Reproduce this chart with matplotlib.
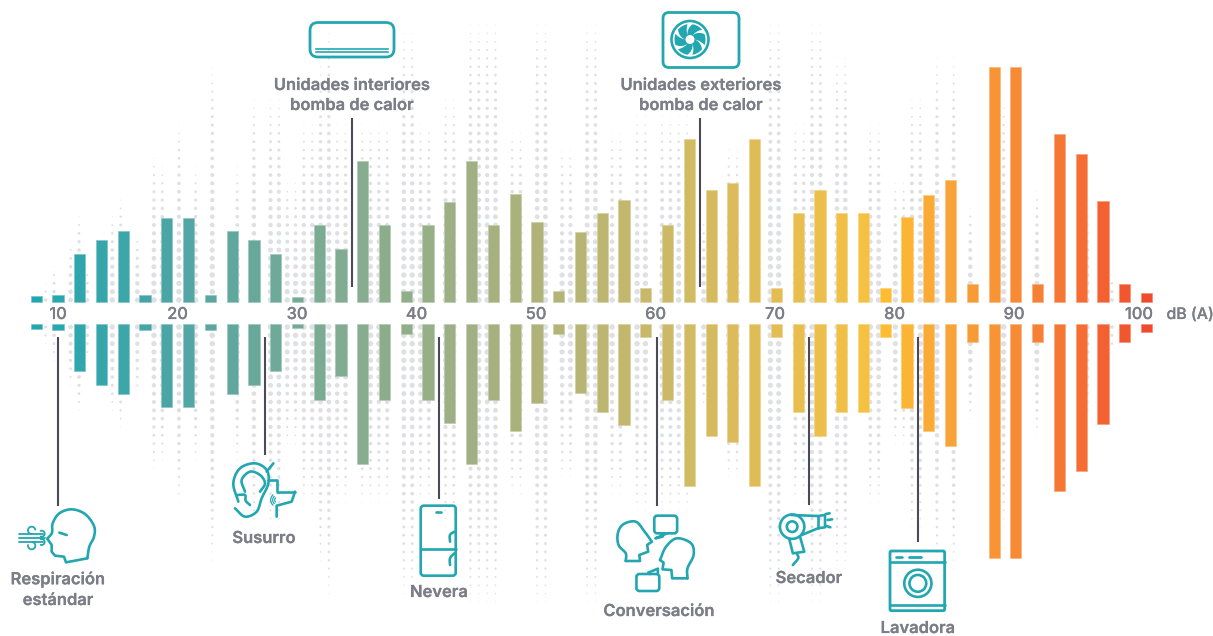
import numpy as np
import matplotlib
matplotlib.use("Agg")
import matplotlib.pyplot as plt
import matplotlib.patheffects as pe
from matplotlib.colors import LinearSegmentedColormap, to_rgb
from matplotlib.patches import FancyBboxPatch, Circle, Polygon

W, H = 1213, 636
FONT = "Inter"
TEAL = "#22a7b0"
GREY = "#7b7d87"
LEADER = "#4a4b57"
DOT = "#dfe0e3"

# bar half-heights, px units measured away from the central label band
upper = [6, 7, 48, 62, 71, 7, 84, 84, 7, 71, 62, 48, 5, 77, 53, 141, 77, 11, 77, 100,
         141, 77, 108, 80, 11, 70, 89, 102, 14, 77, 163, 112, 119, 163, 14, 89, 112, 89,
         89, 14, 85, 107, 122, 18, 235, 235, 18, 168, 148, 101, 18, 9]
lower = [5, 6, 47, 61, 70, 6, 83, 83, 6, 70, 61, 47, 4, 76, 52, 140, 76, 10, 76, 99,
         140, 76, 107, 79, 10, 69, 88, 101, 13, 76, 162, 112, 118, 162, 13, 88, 112, 88,
         88, 13, 84, 107, 122, 18, 234, 234, 18, 167, 147, 100, 18, 8]
tick_values = [10, 20, 30, 40, 50, 60, 70, 80, 90, 100]
tick_pos_db = [10, 20, 30, 40, 50, 60, 70, 80, 90, 100.45]
axis_unit = "dB (A)"

color_pos = [0, 6, 13, 20, 26, 30, 33, 38, 39, 42, 45, 48, 51]
color_hex = ["#22a7b0", "#4ba5a5", "#7cab94", "#a1b082", "#bdb671", "#d0ba62", "#e0bc56",
             "#f4c142", "#fdbd33", "#f9a237", "#f78b35", "#f56d33", "#ef4a2c"]

# top edge (px) reached by each background dot column, 0 = no column
dot_top = [0, 0, 0, 303, 292, 283, 267, 0, 242, 215, 267, 0, 233, 217, 200, 0, 233, 0, 157, 165,
           0, 123, 0, 167, 0, 67, 0, 0, 167, 0, 100, 0, 97, 97, 183, 183, 123, 123, 63, 30,
           123, 123, 0, 123, 123, 123, 123, 0, 30, 30, 123, 123, 0, 100, 100, 0, 23, 23, 23, 23,
           0, 132, 132, 0, 23, 23, 0, 148, 148, 0, 23, 23, 0, 132, 132, 0, 115, 115, 0, 115,
           115, 115, 115, 0, 220, 0, 0, 148, 148, 0, 0, 0, 23, 23, 0, 123, 123, 23, 23, 0,
           57, 57, 0, 0, 123, 123, 0, 182, 182, 98, 98, 0, 57, 0, 57, 0, 207, 0, 0, 0,
           100, 0, 0, 0, 190, 0, 0, 0, 0, 0, 180, 0, 0, 273, 0, 285]

fig = plt.figure(figsize=(W / 100, H / 100), dpi=100, facecolor="white")
CY = 313.5
BAR_CY = 313.0
PX_PER_DB = 11.95
BOLD = [pe.withStroke(linewidth=0.15, foreground=GREY)]

# dots layer
dots = fig.add_axes([0, 0, 1, 1], zorder=0)
dots.set_xlim(0, W); dots.set_ylim(H, 0); dots.axis("off")
xs, ys, ss = [], [], []
for k, top in enumerate(dot_top):
    if not top:
        continue
    reach = CY - top
    for n in range(40):
        d = 13.5 + 8.33 * n
        if d > reach + 1:
            break
        f = max(0.0, 1 - d / reach)
        r = max(0.45, 2.9 * f ** 0.45 * min(1.0, 0.6 + reach / 250))
        for y in (CY - d, CY + d):
            xs.append(4 + 8.33 * k); ys.append(y)
            ss.append((2 * r * 0.72) ** 2)
dots.scatter(xs, ys, s=ss, c=DOT, linewidths=0)

# bars layer: x in dB, y in px away from centre
ax = fig.add_axes([0, 0, 1, 1], zorder=1)
ax.patch.set_alpha(0)
ax.set_xlim(10 - 58 / PX_PER_DB, 10 + (W - 58) / PX_PER_DB)
ax.set_ylim(-(H - BAR_CY), BAR_CY)
ax.axis("off")
cmap = LinearSegmentedColormap.from_list(
    "db", [(p / color_pos[-1], c) for p, c in zip(color_pos, color_hex)])
n_bars = len(upper)
bar_db = 10 + (np.arange(n_bars) - 1) * 21.77 / PX_PER_DB
gap = 11.0
for i, (x, u, l) in enumerate(zip(bar_db, upper, lower)):
    c = np.array(to_rgb(cmap(i / (n_bars - 1))))
    e = tuple(c * 0.65 + 0.35)
    w = 11.2 / PX_PER_DB
    ax.bar(x, u, w, bottom=gap, color=tuple(c), edgecolor=e, linewidth=0.5)
    ax.bar(x, -l, w, bottom=-gap, color=tuple(c), edgecolor=e, linewidth=0.5)
for v, p in zip(tick_values, tick_pos_db):
    ax.text(p, 0, str(v), ha="center", va="center_baseline", color=GREY, fontsize=11.8,
            family=FONT, weight=500, path_effects=BOLD)
ax.text(10 + (1190 - 58) / PX_PER_DB, 0, axis_unit, ha="center", va="center_baseline",
        color=GREY, fontsize=11.4, family=FONT, weight=500, path_effects=BOLD)

# overlay in pixel coordinates: leaders, labels, icons
ov = fig.add_axes([0, 0, 1, 1], zorder=2)
ov.patch.set_alpha(0)
ov.set_xlim(0, W); ov.set_ylim(H, 0); ov.axis("off")

leaders = [(58, 337, 506), (265, 337, 455), (352, 118, 287), (439, 337, 499),
           (657, 337, 506), (700, 118, 287), (809, 337, 505), (918, 337, 542)]
for x, y0, y1 in leaders:
    ov.plot([x, x], [y0, y1], color=LEADER, lw=1.5, solid_capstyle="butt")

labels = [("Unidades interiores", 352, 84), ("bomba de calor", 352, 104),
          ("Unidades exteriores", 701, 84), ("bomba de calor", 701, 104),
          ("Respiración", 58, 578), ("estándar", 58, 599), ("Susurro", 264, 537),
          ("Nevera", 439, 591), ("Conversación", 659, 610), ("Secador", 809, 577),
          ("Lavadora", 918, 627)]
for t, x, y in labels:
    ov.text(x, y, t, ha="center", va="center_baseline", color=GREY, fontsize=11.9,
            family=FONT, weight=600, path_effects=BOLD)


def spline(pts, samples=14):
    p = np.array(pts, float)
    p = np.vstack([2 * p[0] - p[1], p, 2 * p[-1] - p[-2]])
    out = []
    for i in range(1, len(p) - 2):
        for t in np.linspace(0, 1, samples, endpoint=False):
            out.append(0.5 * ((2 * p[i]) + (p[i + 1] - p[i - 1]) * t +
                              (2 * p[i - 1] - 5 * p[i] + 4 * p[i + 1] - p[i + 2]) * t ** 2 +
                              (3 * p[i] - p[i - 1] - 3 * p[i + 1] + p[i + 2]) * t ** 3))
    out.append(p[-2])
    return np.array(out)


LW = 1.9


def stroke(pts, ox, oy, sx=3.0, smooth=False, lw=LW, color=TEAL):
    p = spline(pts) if smooth else np.array(pts, float)
    ov.plot(ox + p[:, 0] / sx, oy + p[:, 1] / 3, color=color, lw=lw,
            solid_capstyle="round", solid_joinstyle="round")


def arc(cx, cy, r, a0, a1, ox, oy, sx=3.0, lw=LW):
    t = np.radians(np.linspace(a0, a1, 40))
    ov.plot(ox + (cx + r * np.cos(t)) / sx, oy + (cy + r * np.sin(t)) / 3, color=TEAL, lw=lw,
            solid_capstyle="round")


def rbox(x0, y0, x1, y1, r, lw=LW):
    ov.add_patch(FancyBboxPatch((x0 + r, y0 + r), x1 - x0 - 2 * r, y1 - y0 - 2 * r,
                                boxstyle=f"round,pad={r},rounding_size={r}",
                                fc="none", ec=TEAL, lw=lw))


# air-conditioner indoor unit
rbox(310, 22.5, 394, 57, 8, lw=2.0)
ov.plot([316, 388], [48.5, 48.5], color=TEAL, lw=1.2)
ov.plot([316, 388], [52, 52], color=TEAL, lw=1.2)

# outdoor unit with fan
rbox(663, 12.5, 739, 67.5, 6, lw=2.0)
ov.add_patch(Circle((690, 39.5), 18.5, fc="white", ec=TEAL, lw=1.9))
ov.add_patch(Circle((690, 39.5), 15.5, fc=TEAL, ec="none"))
for a in range(0, 360, 60):
    t0 = np.radians(a)
    rr = np.linspace(4.5, 16.5, 14)
    front = t0 + np.linspace(0, 0.75, 14)
    back = t0 + np.linspace(0, 0.4, 14)
    poly = np.vstack([np.c_[690 + rr * np.cos(front), 39.5 + rr * np.sin(front)],
                      np.c_[690 + rr[::-1] * np.cos(back[::-1]), 39.5 + rr[::-1] * np.sin(back[::-1])]])
    ov.add_patch(Polygon(poly, fc="white", ec="none"))
ov.add_patch(Circle((690, 39.5), 4.5, fc="white", ec="none"))

# breathing head
o = (0, 440)
stroke([(142, 296), (156, 278), (158, 250), (178, 220), (215, 208), (255, 222), (282, 258),
        (282, 290), (268, 320), (262, 355)], *o, smooth=True)
stroke([(262, 355), (198, 367), (192, 350), (165, 347), (155, 335), (155, 315), (142, 296)], *o)
stroke([(178, 278), (200, 285)], *o)
for y, x1 in [(281, 128), (293, 135), (305, 128)]:
    stroke([(58, y), (x1, y)], *o, lw=1.3)
arc(95, 271, 11, 90, 350, *o, lw=1.3)
arc(125, 281, 9, -110, 110, *o, lw=1.3)
arc(95, 317, 11, -80, 190, *o, lw=1.3)
arc(125, 306, 9, -110, 110, *o, lw=1.3)

# ear / whisper
stroke([(715, 185), (700, 130), (720, 85), (765, 70), (800, 90), (805, 130), (785, 175),
        (770, 215), (735, 230), (705, 205)], *o, smooth=True)
stroke([(735, 155), (725, 120), (750, 95), (780, 105), (795, 130), (780, 155)], *o, smooth=True)
stroke([(712, 165), (735, 165), (737, 182), (750, 195)], *o, smooth=True)
stroke([(800, 95), (820, 70)], *o)
stroke([(805, 120), (830, 120), (830, 155), (885, 155)], *o)
stroke([(885, 155), (875, 185), (830, 197), (830, 230)], *o)
for r in (8, 14, 20):
    arc(832, 180, r, 130, 230, *o, lw=0.9)

# this crop's picture has 2.8 px per px horizontally and 3 vertically
o = (400, 490, 2.8)
X = lambda v: 400 + v / 2.8
Y = lambda v: 490 + v / 3

# fridge
rbox(X(58), Y(47), X(156), Y(257), 3)
stroke([(58, 176), (156, 176)], *o)
stroke([(100, 65), (115, 65)], *o)
stroke([(140, 155), (140, 135), (152, 125)], *o, smooth=True)
stroke([(140, 225), (140, 205), (152, 190)], *o, smooth=True)

# conversation
stroke([(632, 213), (632, 190), (612, 165), (610, 130), (625, 103), (660, 95), (685, 125), (705, 155)],
       *o, smooth=True)
stroke([(705, 155), (692, 165), (695, 185), (670, 195), (672, 213), (632, 213)], *o)
stroke([(805, 265), (805, 235), (822, 195), (815, 160), (775, 145), (745, 170), (728, 210)],
       *o, smooth=True)
stroke([(728, 210), (738, 218), (735, 238), (760, 240), (762, 265), (805, 265)], *o)
rbox(X(712), Y(77), X(776), Y(130), 3)
stroke([(730, 130), (735, 140), (715, 145), (748, 130)], *o)
rbox(X(662), Y(252), X(726), Y(303), 3)
stroke([(722, 252), (722, 236), (695, 248), (700, 252)], *o)

# hair dryer
for r in (12.2, 5.3):
    ov.add_patch(Circle((X(1098), Y(110)), r, fc="none", ec=TEAL, lw=LW))
stroke([(1095, 75), (1170, 78), (1190, 75), (1190, 112), (1170, 115), (1125, 135)], *o)
stroke([(1170, 78), (1170, 115)], *o)
stroke([(1090, 147), (1100, 190), (1132, 185), (1120, 140)], *o)
stroke([(1112, 192), (1115, 205), (1100, 225)], *o, smooth=True)
stroke([(1192, 72), (1203, 70)], *o)
stroke([(1197, 90), (1210, 88)], *o)
stroke([(1194, 108), (1205, 112)], *o)

# washing machine
rbox(X(1372), Y(183), X(1525), Y(362), 1.5, lw=2.0)
stroke([(1372, 215), (1525, 215)], *o)
stroke([(1372, 345), (1525, 345)], *o)
stroke([(1390, 202), (1405, 202)], *o)
stroke([(1425, 202), (1460, 202)], *o, lw=2.0)
for r in (13.6, 8.4):
    ov.add_patch(Circle((X(1450), Y(280)), r, fc="none", ec=TEAL, lw=LW))

fig.savefig("out.png", dpi=100)
